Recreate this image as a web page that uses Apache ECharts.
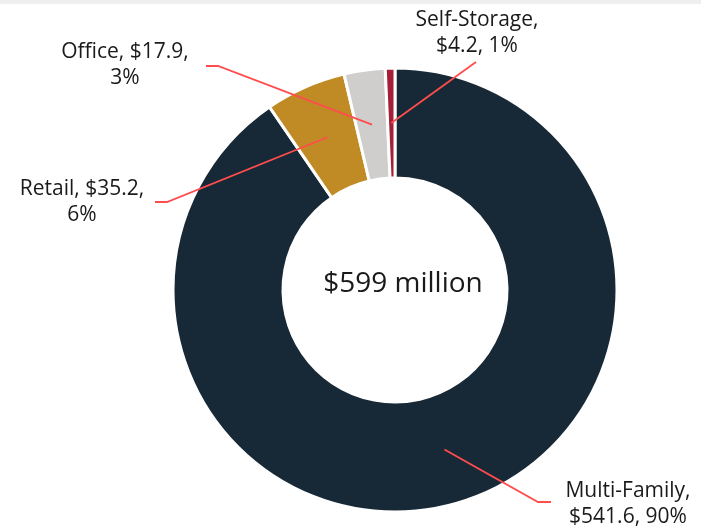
<!DOCTYPE html>
<html>
<head>
<meta charset="utf-8">
<script src="https://cdn.jsdelivr.net/npm/echarts@6/dist/echarts.min.js"></script>
<style>
  html, body { margin: 0; padding: 0; background: #fff; }
  #chart { width: 701px; height: 527px; }
</style>
</head>
<body>
<div id="chart"></div>
<script>
// 按物业类型划分的贷款余额（百万美元）
const categories = ['Multi-Family', 'Retail', 'Office', 'Self-Storage']
const amounts = [541.6, 35.2, 17.9, 4.2]
const colors = ['#172836', '#C08A25', '#D0CECC', '#A51F37']
const centerText = '$599 million'

const fontFamily = '"Open Sans", "Noto Sans", sans-serif'
const lineColor = '#FF4D4D'
const center = [395, 290]

// 标签摆放位置（布局，不是数据）
const labelSpots = {
  'Multi-Family': { x: 628, y: 504, elbow: [538, 502], end: [551, 502] },
  'Retail': { x: 82, y: 202, elbow: [167, 202], end: [155, 202] },
  'Office': { x: 125, y: 65, elbow: [218, 66], end: [206, 66] },
  'Self-Storage': { x: 477, y: 33, elbow: [476, 62], end: [476, 62] }
}

const pieData = categories.map((name, i) => ({
  name: name,
  value: amounts[i],
  itemStyle: { color: colors[i] }
}))

// 名称较长时在名称后换行，否则在百分比前换行
const labelText = (p) => {
  const money = '$' + p.value
  if (p.name.length > 6) return p.name + ',\n' + money + ', ' + p.percent + '%'
  return p.name + ', ' + money + ',\n' + p.percent + '%'
}

const myChart = echarts.init(document.getElementById('chart'))
myChart.setOption({
  animation: false,
  title: {
    text: centerText,
    left: 398,
    top: 265,
    textAlign: 'center',
    textStyle: {
      fontFamily: fontFamily,
      fontSize: 28,
      fontWeight: 'normal',
      color: '#1a1a1a'
    }
  },
  graphic: [{
    type: 'rect',
    left: 0,
    top: 0,
    shape: { width: 701, height: 4 },
    style: { fill: '#efefef' },
    silent: true
  }],
  series: [
    {
      type: 'pie',
      center: center,
      radius: [112, 222],
      startAngle: 90,
      clockwise: true,
      silent: true,
      label: { show: false },
      labelLine: { show: false },
      itemStyle: { borderColor: '#fff', borderWidth: 3 },
      data: pieData
    },
    {
      // 透明的内圈，只用来画标签和引导线
      type: 'pie',
      center: center,
      radius: [0, 167],
      startAngle: 90,
      clockwise: true,
      silent: true,
      percentPrecision: 0,
      z: 5,
      itemStyle: { color: 'rgba(0,0,0,0)' },
      label: {
        show: true,
        position: 'outside',
        formatter: labelText,
        fontFamily: fontFamily,
        fontSize: 21,
        lineHeight: 26,
        color: '#1a1a1a',
        align: 'center'
      },
      labelLine: {
        show: true,
        length: 10,
        length2: 10,
        lineStyle: { color: lineColor, width: 1.8 }
      },
      labelLayout: (params) => {
        const spot = labelSpots[categories[params.dataIndex]]
        const start = params.labelLinePoints ? params.labelLinePoints[0] : center
        return {
          x: spot.x,
          y: spot.y,
          align: 'center',
          verticalAlign: 'middle',
          labelLinePoints: [start, spot.elbow, spot.end]
        }
      },
      data: pieData.map(d => ({ name: d.name, value: d.value }))
    }
  ]
})
</script>
</body>
</html>
